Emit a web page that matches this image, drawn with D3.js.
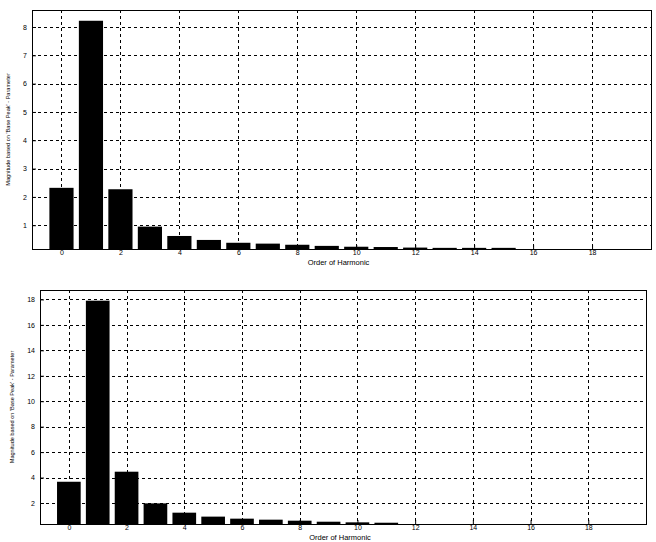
<!DOCTYPE html>
<html>
<head>
<meta charset="utf-8">
<script src="https://cdn.jsdelivr.net/npm/d3@7"></script>
<style>
  body { margin: 0; background: #fff; }
  svg { display: block; }
  text { font-family: "Liberation Sans", Arial, sans-serif; fill: #000; }
</style>
</head>
<body>
<svg id="chart" width="656" height="542"></svg>
<script>
// ---- data ----
const harmonicsTop = [0, 1, 2, 3, 4, 5, 6, 7, 8, 9, 10, 11, 12, 13, 14, 15];
const valuesTop = [2.32, 8.22, 2.27, 0.95, 0.62, 0.48, 0.38, 0.35, 0.31, 0.27, 0.24, 0.23, 0.21, 0.20, 0.20, 0.20];
const harmonicsBottom = [0, 1, 2, 3, 4, 5, 6, 7, 8, 9, 10, 11];
const valuesBottom = [3.67, 17.9, 4.46, 1.97, 1.24, 0.93, 0.77, 0.69, 0.61, 0.53, 0.48, 0.45];
const xTickValues = [0, 2, 4, 6, 8, 10, 12, 14, 16, 18];
const yTicksTop = [1, 2, 3, 4, 5, 6, 7, 8];
const yTicksBottom = [2, 4, 6, 8, 10, 12, 14, 16, 18];
const xLabelText = "Order of Harmonic";
const yLabelText = "Magnitude based on 'Base Peak' - Parameter";

const svg = d3.select("#chart");

function drawPanel(cfg) {
  const g = svg.append("g");
  const x = d3.scaleLinear().domain([-1, 20]).range([cfg.left, cfg.right]);
  const y = d3.scaleLinear().domain(cfg.yDomain).range([cfg.bottom, cfg.top]);
  const unit = x(1) - x(0);
  const bw = unit * 0.82;

  const clipId = "clip" + cfg.id;
  svg.append("defs").append("clipPath").attr("id", clipId)
    .append("rect").attr("x", cfg.left).attr("y", cfg.top)
    .attr("width", cfg.right - cfg.left).attr("height", cfg.bottom - cfg.top);

  // grid
  const grid = g.append("g").attr("stroke", "#000").attr("stroke-width", 1)
    .attr("stroke-dasharray", "3,3").attr("shape-rendering", "crispEdges");
  grid.selectAll("line.v").data(xTickValues).enter().append("line")
    .attr("x1", d => Math.round(x(d)) + 0.5).attr("x2", d => Math.round(x(d)) + 0.5)
    .attr("y1", cfg.top).attr("y2", cfg.bottom);
  grid.selectAll("line.h").data(cfg.yTicks).enter().append("line")
    .attr("x1", cfg.left).attr("x2", cfg.right)
    .attr("y1", d => Math.round(y(d)) + 0.5).attr("y2", d => Math.round(y(d)) + 0.5);

  // bars
  g.append("g").attr("clip-path", `url(#${clipId})`)
    .selectAll("rect").data(cfg.values).enter().append("rect")
    .attr("x", (d, i) => x(cfg.harmonics[i]) - bw / 2)
    .attr("width", bw)
    .attr("y", d => y(d))
    .attr("height", d => Math.max(0, cfg.bottom - y(d)))
    .attr("fill", "#000");

  // frame
  g.append("rect").attr("x", cfg.left + 0.5).attr("y", cfg.top + 0.5)
    .attr("width", cfg.right - cfg.left).attr("height", cfg.bottom - cfg.top)
    .attr("fill", "none").attr("stroke", "#000").attr("stroke-width", 1.4)
    .attr("shape-rendering", "crispEdges");

  const xAxis = d3.axisBottom(x).tickValues(xTickValues).tickSize(-4).tickPadding(1)
    .tickFormat(d3.format("d"));
  const xa = g.append("g").attr("transform", `translate(0,${cfg.bottom})`).call(xAxis);
  xa.select(".domain").remove();
  xa.selectAll("text").attr("font-size", 7).attr("font-family", "Liberation Sans, Arial, sans-serif");

  const yAxis = d3.axisLeft(y).tickValues(cfg.yTicks).tickSize(-4).tickPadding(5)
    .tickFormat(d3.format("d"));
  const ya = g.append("g").attr("transform", `translate(${cfg.left},0)`).call(yAxis);
  ya.select(".domain").remove();
  ya.selectAll("text").attr("font-size", 7).attr("font-family", "Liberation Sans, Arial, sans-serif");

  g.append("text").attr("x", (cfg.left + cfg.right) / 2 - 3).attr("y", cfg.xLabelY)
    .attr("text-anchor", "middle").attr("font-size", 7.5).text(xLabelText);
  g.append("text")
    .attr("transform", `translate(${cfg.yLabelX},${(cfg.top + cfg.bottom) / 2}) rotate(-90)`)
    .attr("text-anchor", "middle").attr("font-size", 5.6).text(yLabelText);
}

drawPanel({
  id: "top", left: 32, right: 651, top: 10, bottom: 249,
  yDomain: [0.16, 8.6], yTicks: yTicksTop,
  harmonics: harmonicsTop, values: valuesTop,
  xLabelY: 265, yLabelX: 10
});

drawPanel({
  id: "bottom", left: 40, right: 646, top: 290, bottom: 524,
  yDomain: [0.35, 18.74], yTicks: yTicksBottom,
  harmonics: harmonicsBottom, values: valuesBottom,
  xLabelY: 540, yLabelX: 14
});
</script>
</body>
</html>
